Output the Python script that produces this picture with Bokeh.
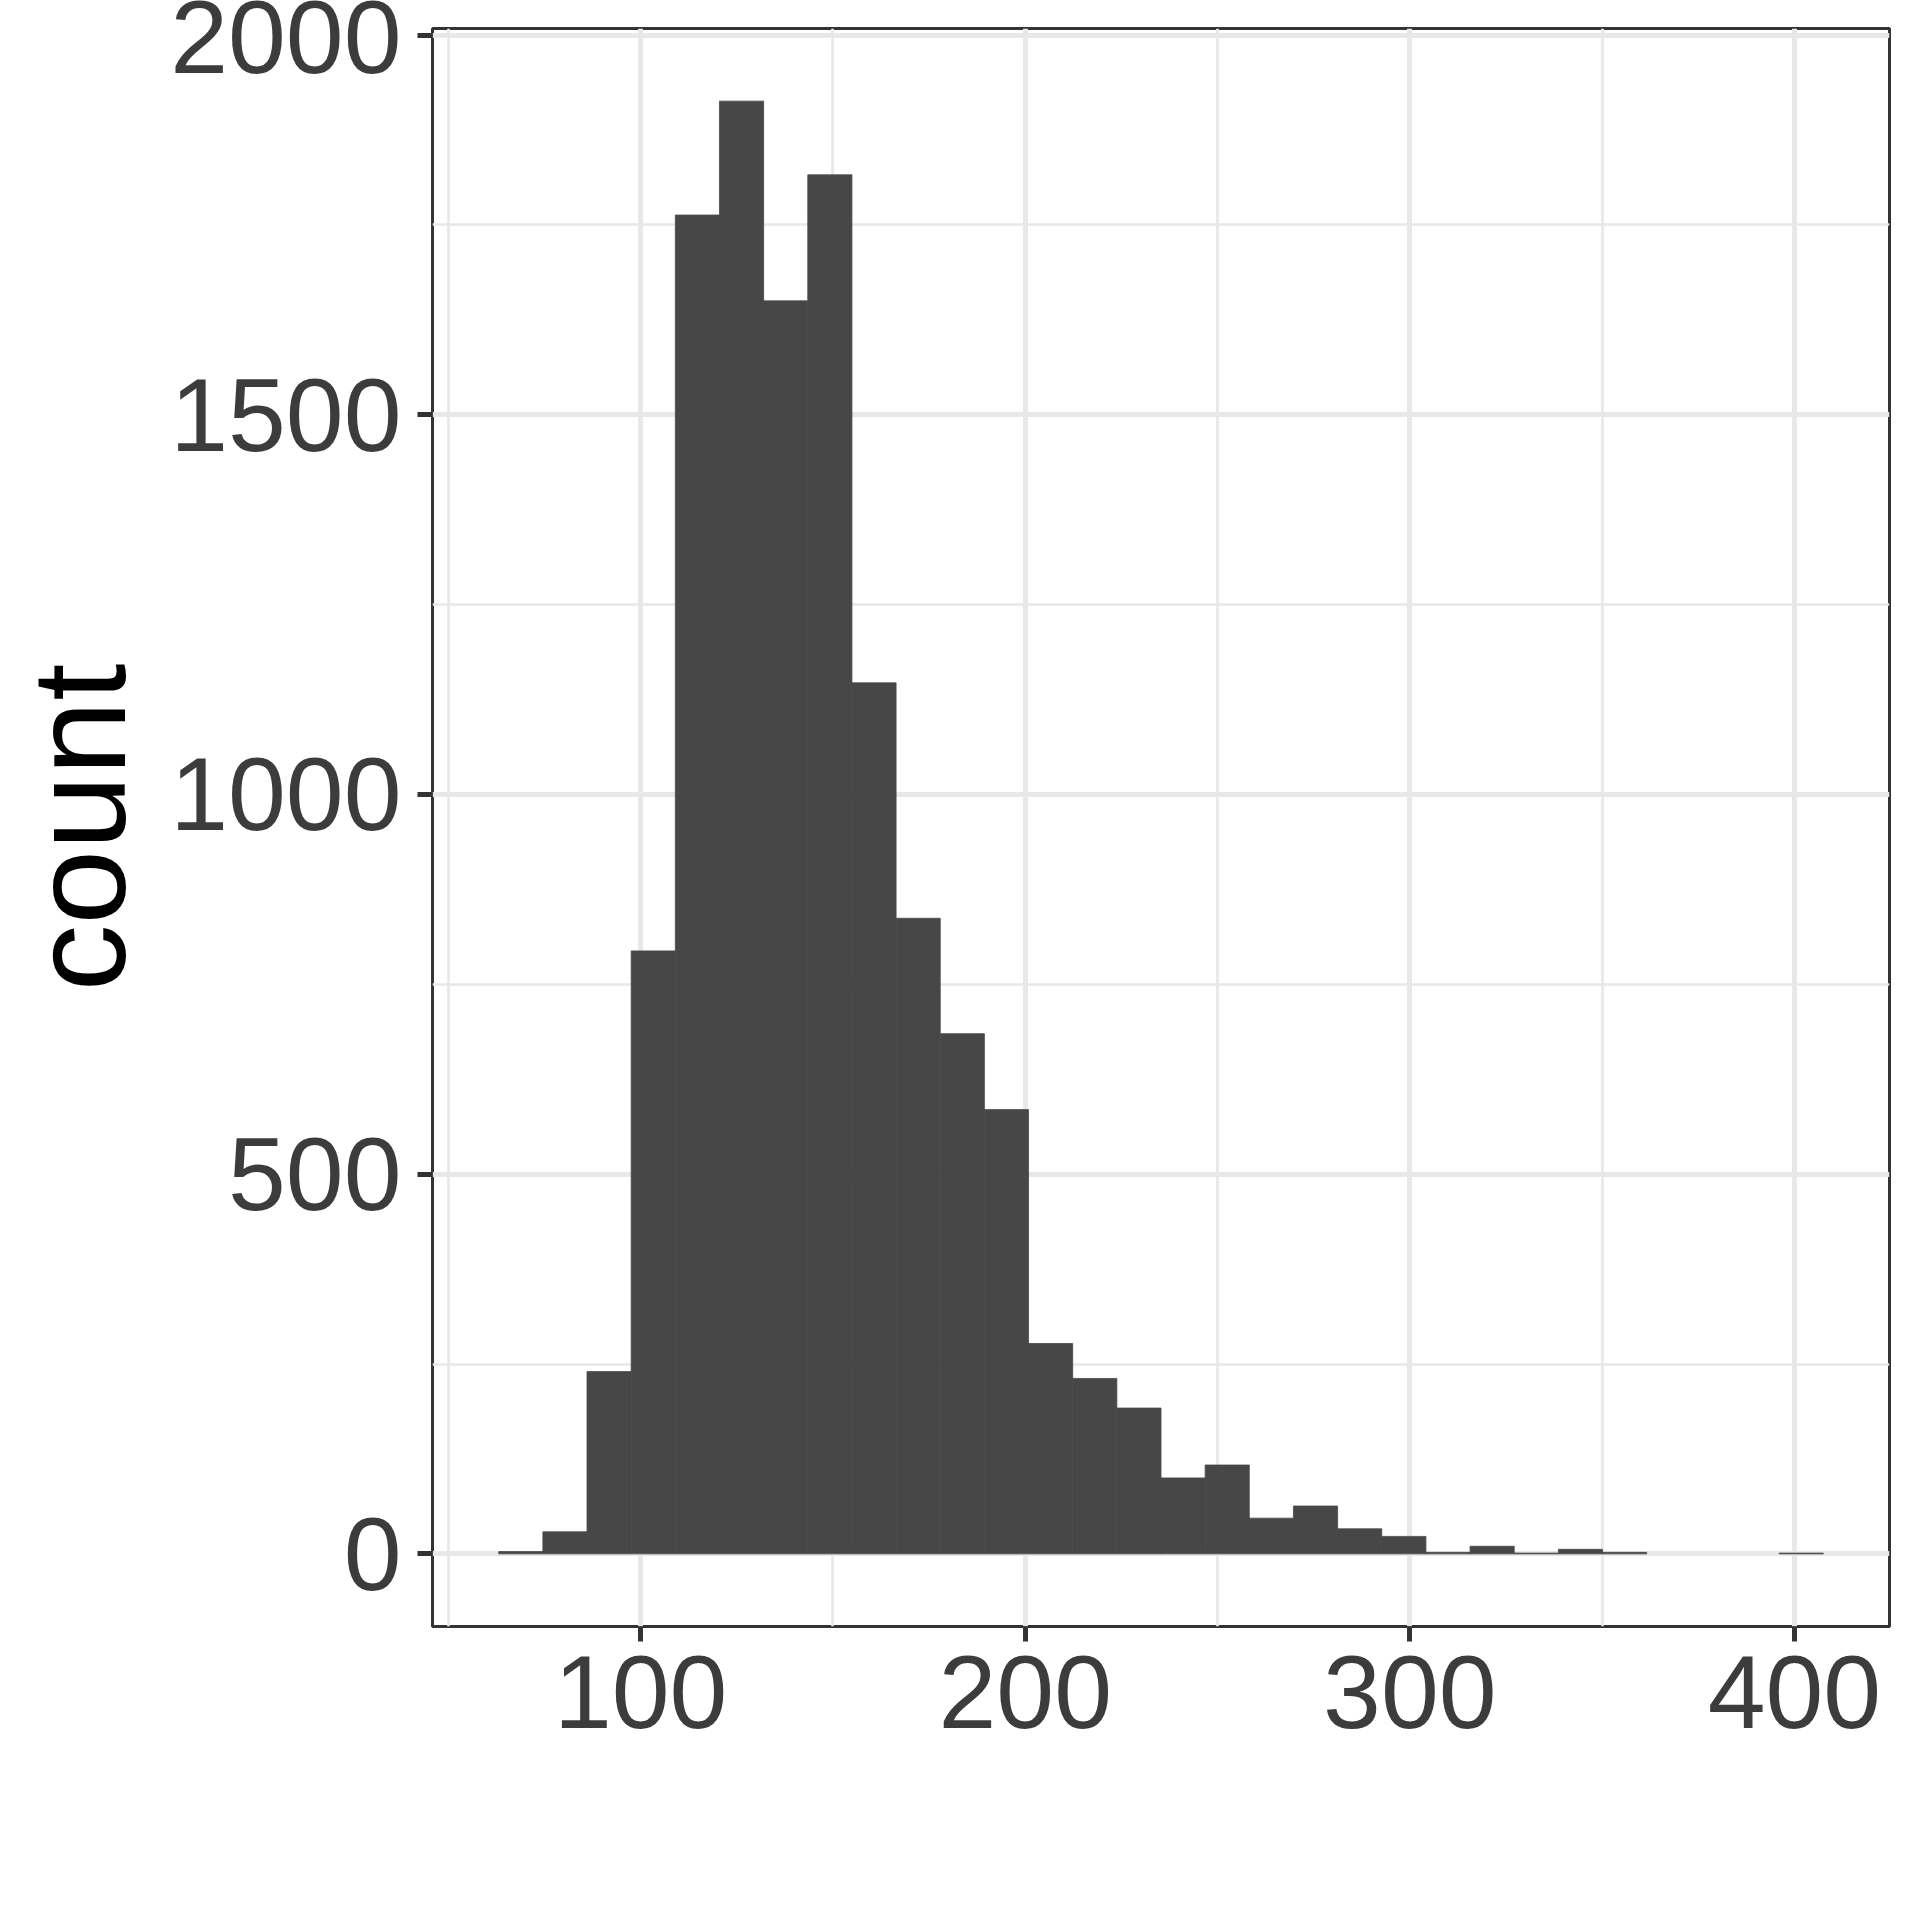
from bokeh.plotting import figure
from bokeh.models import Range1d, FixedTicker, ColumnDataSource
from bokeh.embed import file_html
from bokeh.resources import INLINE

# Histogram data (30 bins)
bin_start = 63.1
bin_width = 11.48
counts = [3, 29, 240, 794, 1763, 1913, 1650, 1816, 1147, 837,
          685, 585, 277, 231, 192, 100, 117, 47, 63, 33,
          23, 2, 10, 1, 6, 2, 0, 0, 0, 1]
x_ticks = [100, 200, 300, 400]
x_minor = [50, 150, 250, 350]
y_ticks = [0, 500, 1000, 1500, 2000]
y_minor = [250, 750, 1250, 1750]
y_label = "count"

lefts = [bin_start + i * bin_width for i in range(len(counts))]
rights = [l + bin_width for l in lefts]
keep = [i for i, c in enumerate(counts) if c > 0]  # empty bins draw nothing
src = ColumnDataSource(dict(left=[lefts[i] for i in keep],
                            right=[rights[i] for i in keep],
                            top=[counts[i] for i in keep],
                            bottom=[0] * len(keep)))

data_min = lefts[0]
data_max = rights[-1]
xr = data_max - data_min
ymax = max(counts)

p = figure(width=1904, height=1904, output_backend="svg", toolbar_location=None,
           x_range=Range1d(data_min - 0.05 * xr, data_max + 0.05 * xr),
           y_range=Range1d(-0.05 * ymax, ymax * 1.05),
           min_border_left=432, min_border_right=15, min_border_top=28, min_border_bottom=278)

p.background_fill_color = "white"
p.border_fill_color = "white"
p.outline_line_color = "#333333"
p.outline_line_width = 3

p.quad(left="left", right="right", top="top", bottom="bottom", source=src,
       fill_color="#474747", line_color="#474747", line_width=0.8)

p.xaxis.ticker = FixedTicker(ticks=x_ticks, minor_ticks=x_minor)
p.yaxis.ticker = FixedTicker(ticks=y_ticks, minor_ticks=y_minor)

for g in (p.xgrid, p.ygrid):
    g.grid_line_color = "#E8E8E8"
    g.grid_line_width = 5
    g.minor_grid_line_color = "#E8E8E8"
    g.minor_grid_line_width = 2.7
    g.level = "underlay"

for ax in (p.xaxis, p.yaxis):
    ax.axis_line_color = None
    ax.major_tick_line_color = "#333333"
    ax.major_tick_line_width = 5
    ax.major_tick_out = 15
    ax.major_tick_in = 0
    ax.minor_tick_line_color = None
    ax.major_label_text_font = "Liberation Sans"
    ax.major_label_text_font_size = "104px"
    ax.major_label_text_color = "#3C3C3C"

p.xaxis.major_label_standoff = 14
p.yaxis.major_label_standoff = 16
p.yaxis.axis_label = y_label
p.yaxis.axis_label_text_font = "Liberation Sans"
p.yaxis.axis_label_text_font_size = "134px"
p.yaxis.axis_label_text_font_style = "normal"
p.yaxis.axis_label_text_color = "black"
p.yaxis.axis_label_standoff = 14

open("out.html", "w").write(file_html(p, INLINE))
